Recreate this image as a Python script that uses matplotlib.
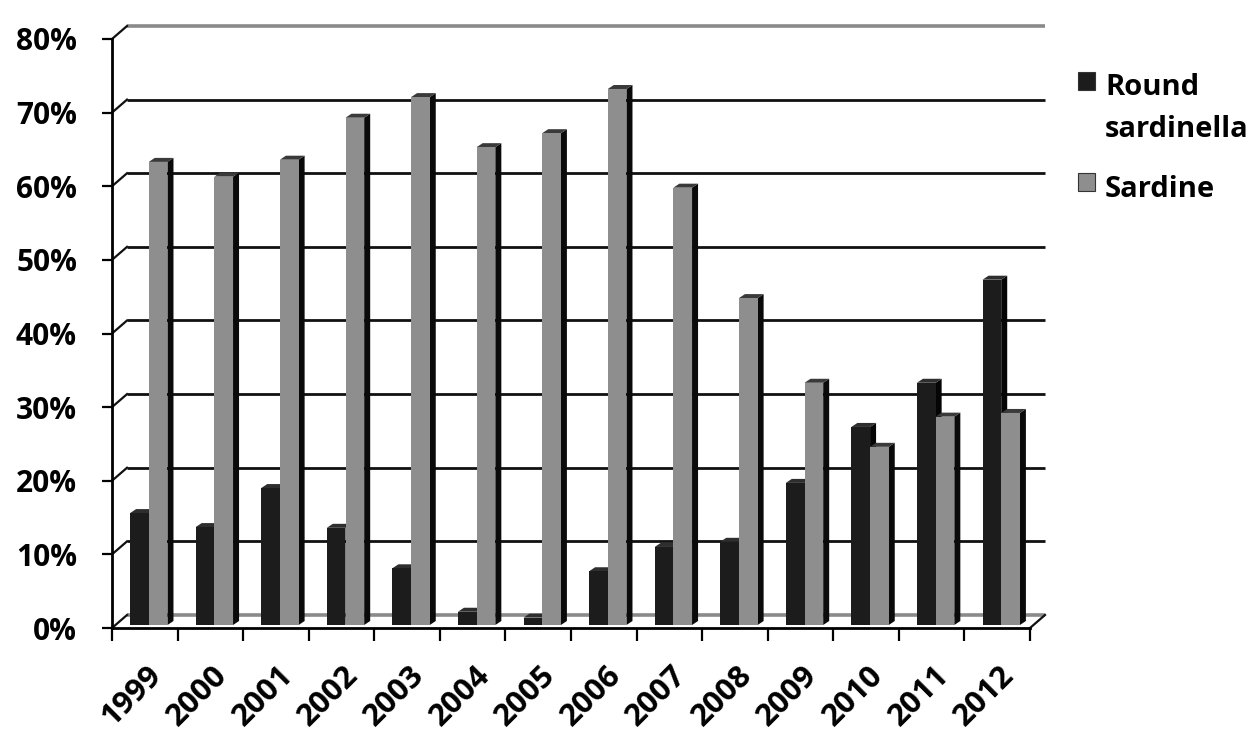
import numpy as np
import matplotlib
matplotlib.use('Agg')
import matplotlib.pyplot as plt
from matplotlib.patches import Polygon, Rectangle
from matplotlib.ticker import FixedLocator, PercentFormatter
import matplotlib.transforms as mtransforms

years = ['1999', '2000', '2001', '2002', '2003', '2004', '2005',
         '2006', '2007', '2008', '2009', '2010', '2011', '2012']
round_sardinella = [15.2, 13.3, 18.6, 13.2, 7.7, 1.8, 1.0,
                    7.3, 10.6, 11.3, 19.3, 26.9, 32.9, 46.9]
sardine = [62.9, 60.9, 63.2, 68.9, 71.7, 64.9, 66.8,
           72.8, 59.4, 44.4, 32.9, 24.2, 28.3, 28.8]
series_labels = ['Round\nsardinella', 'Sardine']
yticks = [0, 10, 20, 30, 40, 50, 60, 70, 80]


def main():
    plt.rcParams['font.family'] = ['Open Sans', 'DejaVu Sans']

    W, H = 1260, 746
    fig = plt.figure(figsize=(W / 100.0, H / 100.0), dpi=100)
    # front plane of the fake 3d box, in pixels
    left, right, bottom, top = 112, 1030, 628, 39
    ax = fig.add_axes([left / W, 1 - bottom / H, (right - left) / W, (bottom - top) / H])
    n = len(years)
    ax.set_xlim(0, n)
    ax.set_ylim(0, 80)

    # pixel -> data units
    px = n / float(right - left)
    py = 80.0 / (bottom - top)
    wall_dx, wall_dy = 15 * px, 13 * py     # depth of back wall
    bar_dx, bar_dy = 4 * px, 3 * py         # bars sit a bit behind front plane
    side_dx, side_dy = 6 * px, 4 * py       # depth of each bar

    for s in ['top', 'right']:
        ax.spines[s].set_visible(False)
    ax.spines['left'].set_linewidth(2)
    ax.spines['bottom'].set_linewidth(2)

    # back wall gridlines + side wall diagonals
    for v in yticks:
        col = '#8a8a8a' if v in (0, 80) else '#111111'
        lw = 2.6 if v in (0, 80) else 2.0
        ax.plot([wall_dx, n + wall_dx], [v + wall_dy, v + wall_dy], color=col, lw=lw,
                clip_on=False, zorder=1, solid_capstyle='butt')
        ax.plot([0, wall_dx], [v, v + wall_dy], color='#111111', lw=1.6,
                clip_on=False, zorder=1)
    ax.plot([n, n + wall_dx], [0, wall_dy], color='#111111', lw=1.6, clip_on=False, zorder=1)

    # bars
    w = 0.285
    x = np.arange(n) + 0.5 + bar_dx
    series = [(round_sardinella, x - w, '#1c1c1c', '#050505', '#2e2e2e'),
              (sardine, x, '#8e8e8e', '#0a0a0a', '#3a3a3a')]
    for k in range(n):
        for vals, xs, front, side, topc in series:
            x0 = xs[k]
            x1 = x0 + w
            y0 = bar_dy
            y1 = bar_dy + vals[k]
            ax.add_patch(Polygon([(x1, y0), (x1 + side_dx, y0 + side_dy),
                                  (x1 + side_dx, y1 + side_dy), (x1, y1)],
                                 closed=True, facecolor=side, edgecolor='none',
                                 zorder=3, clip_on=False))
            ax.add_patch(Polygon([(x0, y1), (x0 + side_dx, y1 + side_dy),
                                  (x1 + side_dx, y1 + side_dy), (x1, y1)],
                                 closed=True, facecolor=topc, edgecolor='none',
                                 zorder=3, clip_on=False))
            ax.bar(x0, vals[k], width=w, bottom=y0, align='edge', color=front,
                   edgecolor='none', zorder=4, clip_on=False)

    # y axis
    ax.yaxis.set_major_locator(FixedLocator(yticks))
    ax.yaxis.set_major_formatter(PercentFormatter(decimals=0))
    ax.tick_params(axis='y', length=7.2, width=1.6, pad=18, labelsize=21.5)
    for lab in ax.get_yticklabels():
        lab.set_fontweight('bold')

    # x axis: ticks at category boundaries, labels at centres
    ax.set_xticks(np.arange(n + 1))
    ax.set_xticklabels([''] * (n + 1))
    ax.set_xticks(np.arange(n) + 0.5, minor=True)
    ax.set_xticklabels(years, minor=True, rotation=45, ha='right',
                       rotation_mode='anchor', fontsize=22.5, fontweight='bold')
    ax.tick_params(axis='x', which='major', length=9.4, width=1.6)
    ax.tick_params(axis='x', which='minor', length=0, pad=23)
    shift = mtransforms.ScaledTranslation(0.02, 0, fig.dpi_scale_trans)
    for lab in ax.get_xticklabels(minor=True):
        lab.set_transform(lab.get_transform() + shift)

    # legend
    cols = ['#1c1c1c', '#8e8e8e']
    sq_y = [72, 173]
    base_y = [93, 195]
    for lab, c, sy, by in zip(series_labels, cols, sq_y, base_y):
        fig.patches.append(Rectangle((1078 / W, 1 - (sy + 18) / H), 17 / W, 18 / H,
                                     transform=fig.transFigure, facecolor=c,
                                     edgecolor='#333333', lw=0.8))
        fig.text(1105 / W, 1 - (by - 20) / H, lab, fontsize=21, va='top',
                 ha='left', linespacing=1.58, fontweight='bold')

    plt.savefig('out.png', dpi=100)


if __name__ == '__main__':
    main()
